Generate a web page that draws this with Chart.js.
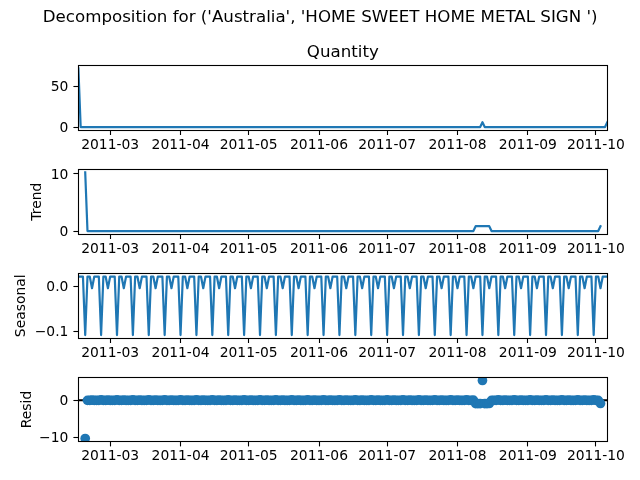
<!DOCTYPE html>
<html>
<head>
<meta charset="utf-8">
<script src="https://cdn.jsdelivr.net/npm/chart.js@4"></script>
<style>
html,body{margin:0;padding:0;background:#fff;width:640px;height:480px;overflow:hidden}
canvas{position:absolute;left:0}
</style>
</head>
<body>
<canvas id="c0" width="640" height="149" style="top:0px"></canvas>
<canvas id="c1" width="640" height="104" style="top:149px"></canvas>
<canvas id="c2" width="640" height="104" style="top:253px"></canvas>
<canvas id="c3" width="640" height="104" style="top:357px"></canvas>
<script>
const dates = [
"2011-02-15","2011-02-16","2011-02-17","2011-02-18","2011-02-19","2011-02-20","2011-02-21","2011-02-22","2011-02-23","2011-02-24","2011-02-25","2011-02-26","2011-02-27","2011-02-28",
"2011-03-01","2011-03-02","2011-03-03","2011-03-04","2011-03-05","2011-03-06","2011-03-07","2011-03-08","2011-03-09","2011-03-10","2011-03-11","2011-03-12","2011-03-13","2011-03-14","2011-03-15","2011-03-16","2011-03-17","2011-03-18","2011-03-19","2011-03-20","2011-03-21","2011-03-22","2011-03-23","2011-03-24","2011-03-25","2011-03-26","2011-03-27","2011-03-28","2011-03-29","2011-03-30","2011-03-31",
"2011-04-01","2011-04-02","2011-04-03","2011-04-04","2011-04-05","2011-04-06","2011-04-07","2011-04-08","2011-04-09","2011-04-10","2011-04-11","2011-04-12","2011-04-13","2011-04-14","2011-04-15","2011-04-16","2011-04-17","2011-04-18","2011-04-19","2011-04-20","2011-04-21","2011-04-22","2011-04-23","2011-04-24","2011-04-25","2011-04-26","2011-04-27","2011-04-28","2011-04-29","2011-04-30",
"2011-05-01","2011-05-02","2011-05-03","2011-05-04","2011-05-05","2011-05-06","2011-05-07","2011-05-08","2011-05-09","2011-05-10","2011-05-11","2011-05-12","2011-05-13","2011-05-14","2011-05-15","2011-05-16","2011-05-17","2011-05-18","2011-05-19","2011-05-20","2011-05-21","2011-05-22","2011-05-23","2011-05-24","2011-05-25","2011-05-26","2011-05-27","2011-05-28","2011-05-29","2011-05-30","2011-05-31",
"2011-06-01","2011-06-02","2011-06-03","2011-06-04","2011-06-05","2011-06-06","2011-06-07","2011-06-08","2011-06-09","2011-06-10","2011-06-11","2011-06-12","2011-06-13","2011-06-14","2011-06-15","2011-06-16","2011-06-17","2011-06-18","2011-06-19","2011-06-20","2011-06-21","2011-06-22","2011-06-23","2011-06-24","2011-06-25","2011-06-26","2011-06-27","2011-06-28","2011-06-29","2011-06-30",
"2011-07-01","2011-07-02","2011-07-03","2011-07-04","2011-07-05","2011-07-06","2011-07-07","2011-07-08","2011-07-09","2011-07-10","2011-07-11","2011-07-12","2011-07-13","2011-07-14","2011-07-15","2011-07-16","2011-07-17","2011-07-18","2011-07-19","2011-07-20","2011-07-21","2011-07-22","2011-07-23","2011-07-24","2011-07-25","2011-07-26","2011-07-27","2011-07-28","2011-07-29","2011-07-30","2011-07-31",
"2011-08-01","2011-08-02","2011-08-03","2011-08-04","2011-08-05","2011-08-06","2011-08-07","2011-08-08","2011-08-09","2011-08-10","2011-08-11","2011-08-12","2011-08-13","2011-08-14","2011-08-15","2011-08-16","2011-08-17","2011-08-18","2011-08-19","2011-08-20","2011-08-21","2011-08-22","2011-08-23","2011-08-24","2011-08-25","2011-08-26","2011-08-27","2011-08-28","2011-08-29","2011-08-30","2011-08-31",
"2011-09-01","2011-09-02","2011-09-03","2011-09-04","2011-09-05","2011-09-06","2011-09-07","2011-09-08","2011-09-09","2011-09-10","2011-09-11","2011-09-12","2011-09-13","2011-09-14","2011-09-15","2011-09-16","2011-09-17","2011-09-18","2011-09-19","2011-09-20","2011-09-21","2011-09-22","2011-09-23","2011-09-24","2011-09-25","2011-09-26","2011-09-27","2011-09-28","2011-09-29","2011-09-30",
"2011-10-01","2011-10-02","2011-10-03","2011-10-04","2011-10-05","2011-10-06"];

const monthTicks = ["2011-03-01","2011-04-01","2011-05-01","2011-06-01","2011-07-01","2011-08-01","2011-09-01","2011-10-01"];

const quantity = [72,0,0,
0,0,0,0,0,0,0, 0,0,0,0,0,0,0, 0,0,0,0,0,0,0, 0,0,0,0,0,0,0,
0,0,0,0,0,0,0, 0,0,0,0,0,0,0, 0,0,0,0,0,0,0, 0,0,0,0,0,0,0,
0,0,0,0,0,0,0, 0,0,0,0,0,0,0, 0,0,0,0,0,0,0, 0,0,0,0,0,0,0,
0,0,0,0,0,0,0, 0,0,0,0,0,0,0, 0,0,0,0,0,0,0, 0,0,0,0,0,0,0,
0,0,0,0,0,0,0, 0,0,0,0,0,0,0, 0,0,0,0,0,0,0, 0,0,0,0,0,0,0,
0,0,0,0,0,0,0, 0,0,0,0,0,0,0, 0,0,0,0,0,0,0, 0,0,0,0,0,0,0,
0,0,0,0,0,0,0, 6,0,0,0,0,0,0, 0,0,0,0,0,0,0, 0,0,0,0,0,0,0,
0,0,0,0,0,0,0, 0,0,0,0,0,0,0, 0,0,0,0,0,0,0, 0,0,0,0,0,0,0,
0,0,0,0,0,0,6];

const trend = [null,null,null,
10.286,0,0,0,0,0,0, 0,0,0,0,0,0,0, 0,0,0,0,0,0,0, 0,0,0,0,0,0,0,
0,0,0,0,0,0,0, 0,0,0,0,0,0,0, 0,0,0,0,0,0,0, 0,0,0,0,0,0,0,
0,0,0,0,0,0,0, 0,0,0,0,0,0,0, 0,0,0,0,0,0,0, 0,0,0,0,0,0,0,
0,0,0,0,0,0,0, 0,0,0,0,0,0,0, 0,0,0,0,0,0,0, 0,0,0,0,0,0,0,
0,0,0,0,0,0,0, 0,0,0,0,0,0,0, 0,0,0,0,0,0,0, 0,0,0,0,0,0,0,
0,0,0,0,0,0,0, 0,0,0,0,0,0,0, 0,0,0,0,0,0,0, 0,0,0,0,0,0,0,
0,0,0,0,0.857,0.857,0.857, 0.857,0.857,0.857,0.857,0,0,0, 0,0,0,0,0,0,0, 0,0,0,0,0,0,0,
0,0,0,0,0,0,0, 0,0,0,0,0,0,0, 0,0,0,0,0,0,0, 0,0,0,0,0,0,0,
0,0,0,0.857,null,null,null];

const seasonal = [0.022,0.022,0.022,
-0.108,0.022,0.022,-0.004,0.022,0.022,0.022, -0.108,0.022,0.022,-0.004,0.022,0.022,0.022, -0.108,0.022,0.022,-0.004,0.022,0.022,0.022, -0.108,0.022,0.022,-0.004,0.022,0.022,0.022,
-0.108,0.022,0.022,-0.004,0.022,0.022,0.022, -0.108,0.022,0.022,-0.004,0.022,0.022,0.022, -0.108,0.022,0.022,-0.004,0.022,0.022,0.022, -0.108,0.022,0.022,-0.004,0.022,0.022,0.022,
-0.108,0.022,0.022,-0.004,0.022,0.022,0.022, -0.108,0.022,0.022,-0.004,0.022,0.022,0.022, -0.108,0.022,0.022,-0.004,0.022,0.022,0.022, -0.108,0.022,0.022,-0.004,0.022,0.022,0.022,
-0.108,0.022,0.022,-0.004,0.022,0.022,0.022, -0.108,0.022,0.022,-0.004,0.022,0.022,0.022, -0.108,0.022,0.022,-0.004,0.022,0.022,0.022, -0.108,0.022,0.022,-0.004,0.022,0.022,0.022,
-0.108,0.022,0.022,-0.004,0.022,0.022,0.022, -0.108,0.022,0.022,-0.004,0.022,0.022,0.022, -0.108,0.022,0.022,-0.004,0.022,0.022,0.022, -0.108,0.022,0.022,-0.004,0.022,0.022,0.022,
-0.108,0.022,0.022,-0.004,0.022,0.022,0.022, -0.108,0.022,0.022,-0.004,0.022,0.022,0.022, -0.108,0.022,0.022,-0.004,0.022,0.022,0.022, -0.108,0.022,0.022,-0.004,0.022,0.022,0.022,
-0.108,0.022,0.022,-0.004,0.022,0.022,0.022, -0.108,0.022,0.022,-0.004,0.022,0.022,0.022, -0.108,0.022,0.022,-0.004,0.022,0.022,0.022, -0.108,0.022,0.022,-0.004,0.022,0.022,0.022,
-0.108,0.022,0.022,-0.004,0.022,0.022,0.022, -0.108,0.022,0.022,-0.004,0.022,0.022,0.022, -0.108,0.022,0.022,-0.004,0.022,0.022,0.022, -0.108,0.022,0.022,-0.004,0.022,0.022,0.022,
-0.108,0.022,0.022,-0.004,0.022,0.022,0.022];

const resid = [null,null,null,
-10.178,-0.022,-0.022,0.004,-0.022,-0.022,-0.022, 0.108,-0.022,-0.022,0.004,-0.022,-0.022,-0.022, 0.108,-0.022,-0.022,0.004,-0.022,-0.022,-0.022, 0.108,-0.022,-0.022,0.004,-0.022,-0.022,-0.022,
0.108,-0.022,-0.022,0.004,-0.022,-0.022,-0.022, 0.108,-0.022,-0.022,0.004,-0.022,-0.022,-0.022, 0.108,-0.022,-0.022,0.004,-0.022,-0.022,-0.022, 0.108,-0.022,-0.022,0.004,-0.022,-0.022,-0.022,
0.108,-0.022,-0.022,0.004,-0.022,-0.022,-0.022, 0.108,-0.022,-0.022,0.004,-0.022,-0.022,-0.022, 0.108,-0.022,-0.022,0.004,-0.022,-0.022,-0.022, 0.108,-0.022,-0.022,0.004,-0.022,-0.022,-0.022,
0.108,-0.022,-0.022,0.004,-0.022,-0.022,-0.022, 0.108,-0.022,-0.022,0.004,-0.022,-0.022,-0.022, 0.108,-0.022,-0.022,0.004,-0.022,-0.022,-0.022, 0.108,-0.022,-0.022,0.004,-0.022,-0.022,-0.022,
0.108,-0.022,-0.022,0.004,-0.022,-0.022,-0.022, 0.108,-0.022,-0.022,0.004,-0.022,-0.022,-0.022, 0.108,-0.022,-0.022,0.004,-0.022,-0.022,-0.022, 0.108,-0.022,-0.022,0.004,-0.022,-0.022,-0.022,
0.108,-0.022,-0.022,0.004,-0.022,-0.022,-0.022, 0.108,-0.022,-0.022,0.004,-0.022,-0.022,-0.022, 0.108,-0.022,-0.022,0.004,-0.022,-0.022,-0.022, 0.108,-0.022,-0.022,0.004,-0.022,-0.022,-0.022,
0.108,-0.022,-0.022,0.004,-0.879,-0.879,-0.879, 5.251,-0.879,-0.879,-0.853,-0.022,-0.022,-0.022, 0.108,-0.022,-0.022,0.004,-0.022,-0.022,-0.022, 0.108,-0.022,-0.022,0.004,-0.022,-0.022,-0.022,
0.108,-0.022,-0.022,0.004,-0.022,-0.022,-0.022, 0.108,-0.022,-0.022,0.004,-0.022,-0.022,-0.022, 0.108,-0.022,-0.022,0.004,-0.022,-0.022,-0.022, 0.108,-0.022,-0.022,0.004,-0.022,-0.022,-0.022,
0.108,-0.022,-0.022,-0.853,null,null,null];

const quantityTicks = [0,50];
const trendTicks = [0,10];
const seasonalTicks = [-0.1,0];
const residTicks = [-10,0];
const quantityRange = [-3.6,75.6];
const trendRange = [-0.514,10.8];
const seasonalRange = [-0.1145,0.0285];
const residRange = [-10.95,6.02];

const BLUE = '#1f77b4';
const FONT = 'DejaVu Sans';

const frame = {
  id:'frame',
  afterDraw(chart){
    const a = chart.chartArea, c = chart.ctx;
    const l=Math.floor(a.left)+0.5, r=Math.floor(a.right)+0.5, t=Math.floor(a.top)+0.5, b=Math.floor(a.bottom)+0.5;
    c.save();
    c.strokeStyle='#000';
    c.lineWidth=1.1;
    c.strokeRect(l,t,r-l,b-t);
    c.restore();
  }
};

function panel(o){
  const leftPad = o.leftPad || 0;
  return new Chart(document.getElementById(o.id),{
    type:'line',
    data:{labels:dates,datasets:o.datasets},
    plugins:[frame],
    options:{
      responsive:false,
      animation:false,
      devicePixelRatio:1,
      events:[],
      layout:{padding:{top:o.topPad,right:32.7,left:leftPad,bottom:0}},
      plugins:Object.assign({legend:{display:false},tooltip:{enabled:false}},o.plugins||{}),
      scales:{
        x:{
          type:'category',
          offset:false,
          afterFit(s){s.height=o.xHeight;},
          afterBuildTicks(s){s.ticks=monthTicks.map(m=>({value:dates.indexOf(m)}));},
          grid:{drawOnChartArea:false,tickLength:5,tickColor:'#000',tickWidth:1.1},
          border:{display:false},
          ticks:{
            autoSkip:false,maxRotation:0,minRotation:0,padding:2,color:'#000',
            font:{family:FONT,size:13.89},
            callback(v){return this.getLabelForValue(v).slice(0,7);}
          }
        },
        y:{
          min:o.range[0],max:o.range[1],
          afterFit(s){s.width=78.4-leftPad;},
          afterBuildTicks(s){s.ticks=o.ticks.map(v=>({value:v}));},
          grid:{drawOnChartArea:false,tickLength:5,tickColor:'#000',tickWidth:1.1},
          border:{display:false},
          ticks:{
            padding:5,color:'#000',font:{family:FONT,size:13.89},labelOffset:1,
            callback(v){return v.toFixed(o.decimals).replace('-','\u2212');}
          },
          title:o.yTitle?{display:true,text:o.yTitle,color:'#000',font:{family:FONT,size:13.89,lineHeight:1.2},padding:{top:o.yTitlePad,bottom:0}}:{display:false}
        }
      }
    }
  });
}

function lineSet(values){
  return {data:values,borderColor:BLUE,backgroundColor:BLUE,borderWidth:2.2,borderJoinStyle:'round',borderCapStyle:'square',pointRadius:0,tension:0,fill:false,spanGaps:false,clip:0};
}

panel({id:'c0',datasets:[lineSet(quantity)],ticks:quantityTicks,range:quantityRange,decimals:0,topPad:0,xHeight:19,leftPad:33,
  plugins:{
    title:{display:true,text:"Decomposition for ('Australia', 'HOME SWEET HOME METAL SIGN ')",color:'#000',fullSize:true,
      font:{family:FONT,size:16.67,weight:'normal',lineHeight:1.2},padding:{top:7.5,bottom:15}},
    subtitle:{display:true,text:'Quantity',color:'#000',fullSize:false,
      font:{family:FONT,size:16.67,weight:'normal',lineHeight:1.2},padding:{top:0,bottom:2.9}}
  }});
panel({id:'c1',datasets:[lineSet(trend)],ticks:trendTicks,range:trendRange,decimals:0,yTitle:'Trend',yTitlePad:28.7,topPad:20.4,xHeight:19});
panel({id:'c2',datasets:[lineSet(seasonal)],ticks:seasonalTicks,range:seasonalRange,decimals:1,yTitle:'Seasonal',yTitlePad:13,topPad:20.6,xHeight:19});
panel({id:'c3',datasets:[
  {data:resid,showLine:false,borderColor:BLUE,backgroundColor:BLUE,borderWidth:0,pointRadius:4.86,pointBorderWidth:0,order:1,clip:0},
  {data:[{x:dates[0],y:0},{x:dates[dates.length-1],y:0}],borderColor:'#000',borderWidth:2.08,pointRadius:0,order:2,clip:0}
],ticks:residTicks,range:residRange,decimals:0,yTitle:'Resid',yTitlePad:19,topPad:20.6,xHeight:19.6});
</script>
</body>
</html>
